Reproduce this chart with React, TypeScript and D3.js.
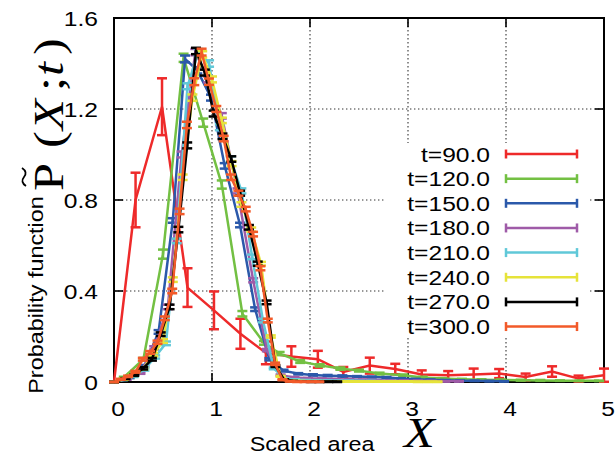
import React from 'react';
import * as d3 from 'd3';

// ---------- data ----------
const xTicks = [0, 1, 2, 3, 4, 5];
const yTicks = [0, 0.4, 0.8, 1.2, 1.6];
const yTickLabels = ['0', '0.4', '0.8', '1.2', '1.6'];
const seriesNames = ['t=90.0', 't=120.0', 't=150.0', 't=180.0', 't=210.0', 't=240.0', 't=270.0', 't=300.0'];
const seriesColors = ['#ee2a2a', '#73c043', '#2b59aa', '#9f5ba8', '#60c8d8', '#e6e33a', '#000000', '#f25a29'];

const x90 = [0, 0.22, 0.49, 0.75, 1.02, 1.29, 1.55, 1.81, 2.08, 2.34, 2.61, 2.87, 3.14, 3.41, 3.67, 3.93, 4.2, 4.47, 4.74, 5.0];
const y90 = [0, 0.80, 1.21, 0.415, 0.315, 0.212, 0.128, 0.112, 0.1, 0.044, 0.072, 0.057, 0.033, 0.03, 0.033, 0.037, 0.022, 0.046, 0.015, 0.03];
const e90 = [0, 0.12, 0.125, 0.085, 0.083, 0.066, 0.05, 0.045, 0.037, 0.022, 0.035, 0.023, 0.018, 0.018, 0.026, 0.02, 0.015, 0.023, 0.013, 0.029];

const x120 = [0, 0.1, 0.3, 0.5, 0.71, 0.91, 1.1, 1.31, 1.53, 1.69, 1.9, 2.1, 2.31, 2.5, 2.71, 2.95, 3.15, 3.35, 3.55, 3.75, 3.95, 4.15, 4.35, 4.55, 4.75, 4.95];
const y120 = [0, 0.02, 0.1, 0.562, 1.425, 1.14, 0.868, 0.3, 0.172, 0.125, 0.09, 0.073, 0.059, 0.05, 0.037, 0.03, 0.02, 0.015, 0.012, 0.01, 0.009, 0.008, 0.007, 0.006, 0.005, 0.005];
const e120 = [0, 0.003, 0.006, 0.02, 0.018, 0.018, 0.018, 0.012, 0.008, 0.007, 0.006, 0.005, 0.005, 0.004, 0.004, 0.003, 0.003, 0.002, 0.002, 0.002, 0.002, 0.002, 0.002, 0.001, 0.001, 0.001];

const x150 = [0, 0.16, 0.31, 0.455, 0.6, 0.725, 0.85, 0.99, 1.13, 1.286, 1.44, 1.585, 1.73, 1.88, 2.03, 2.18, 2.33, 2.48, 2.63, 2.78, 2.93, 3.08, 3.23, 3.38, 3.53, 3.68, 3.83, 3.98];
const y150 = [0, 0.02, 0.07, 0.22, 0.71, 1.42, 1.37, 1.25, 0.95, 0.69, 0.32, 0.1, 0.05, 0.036, 0.031, 0.028, 0.026, 0.024, 0.022, 0.02, 0.015, 0.012, 0.01, 0.008, 0.006, 0.005, 0.004, 0.003];
const e150 = [0, 0.003, 0.005, 0.008, 0.01, 0.015, 0.014, 0.013, 0.012, 0.01, 0.008, 0.005, 0.004, 0.003, 0.003, 0.003, 0.003, 0.002, 0.002, 0.002, 0.002, 0.002, 0.001, 0.001, 0.001, 0.001, 0.001, 0.001];

const x180 = [0, 0.13, 0.27, 0.41, 0.55, 0.69, 0.83, 0.96, 1.10, 1.26, 1.42, 1.56, 1.70, 1.84, 1.98, 2.12, 2.26, 2.40, 2.54, 2.68, 2.82, 2.96, 3.10, 3.24, 3.38, 3.52];
const y180 = [0, 0.012, 0.04, 0.15, 0.33, 1.0, 1.45, 1.33, 1.17, 0.84, 0.447, 0.14, 0.03, 0.02, 0.016, 0.014, 0.012, 0.011, 0.01, 0.008, 0.007, 0.006, 0.005, 0.004, 0.003, 0.003];
const e180 = [0, 0.002, 0.004, 0.007, 0.01, 0.013, 0.014, 0.013, 0.012, 0.011, 0.009, 0.005, 0.003, 0.002, 0.002, 0.002, 0.002, 0.002, 0.001, 0.001, 0.001, 0.001, 0.001, 0.001, 0.001, 0.001];

const x210 = [0, 0.09, 0.2, 0.31, 0.42, 0.53, 0.64, 0.75, 0.86, 0.97, 1.08, 1.19, 1.30, 1.41, 1.52, 1.63, 1.74, 1.85, 1.96, 2.07, 2.18, 2.29, 2.40, 2.51, 2.62, 2.73, 2.84, 2.95];
const y210 = [0, 0.01, 0.025, 0.055, 0.11, 0.17, 0.62, 1.3, 1.45, 1.4, 1.12, 0.98, 0.84, 0.55, 0.27, 0.06, 0.015, 0.01, 0.008, 0.007, 0.006, 0.005, 0.005, 0.004, 0.004, 0.003, 0.003, 0.002];
const e210 = [0, 0.002, 0.003, 0.005, 0.007, 0.008, 0.01, 0.013, 0.014, 0.014, 0.013, 0.012, 0.011, 0.01, 0.008, 0.004, 0.002, 0.002, 0.001, 0.001, 0.001, 0.001, 0.001, 0.001, 0.001, 0.001, 0.001, 0.001];

const x240 = [0, 0.1, 0.2, 0.3, 0.4, 0.5, 0.6, 0.7, 0.8, 0.9, 1.0, 1.1, 1.2, 1.3, 1.4, 1.5, 1.6, 1.7, 1.8, 1.9, 2.0, 2.1, 2.2, 2.3, 2.4, 2.5, 2.6, 2.7, 2.8, 2.9, 3.0, 3.1, 3.2, 3.3];
const y240 = [0, 0.012, 0.03, 0.06, 0.12, 0.18, 0.45, 0.9, 1.25, 1.44, 1.33, 1.15, 0.96, 0.78, 0.67, 0.52, 0.2, 0.025, 0.006, 0.004, 0.003, 0.003, 0.002, 0.002, 0.002, 0.002, 0.002, 0.002, 0.002, 0.002, 0.002, 0.001, 0.001, 0.001];
const e240 = [0, 0.002, 0.003, 0.005, 0.007, 0.008, 0.01, 0.012, 0.014, 0.014, 0.013, 0.012, 0.011, 0.01, 0.009, 0.008, 0.005, 0.002, 0.001, 0.001, 0.001, 0.001, 0.001, 0.001, 0.001, 0.001, 0.001, 0.001, 0.001, 0.001, 0.001, 0.001, 0.001, 0.001];

const x270 = [0, 0.117, 0.207, 0.297, 0.387, 0.477, 0.567, 0.657, 0.747, 0.837, 0.927, 1.017, 1.107, 1.197, 1.287, 1.377, 1.467, 1.557, 1.647, 1.737, 1.827, 1.917, 2.007, 2.097, 2.187, 2.277];
const y270 = [0, 0.015, 0.03, 0.06, 0.1, 0.21, 0.33, 0.67, 1.04, 1.455, 1.36, 1.18, 1.08, 0.98, 0.83, 0.68, 0.52, 0.35, 0.07, 0.01, 0.004, 0.002, 0.001, 0.001, 0.001, 0.001];
const e270 = [0, 0.002, 0.003, 0.005, 0.006, 0.008, 0.01, 0.012, 0.013, 0.014, 0.013, 0.013, 0.012, 0.012, 0.011, 0.01, 0.009, 0.008, 0.004, 0.002, 0.001, 0.001, 0.001, 0.001, 0.001, 0.001];

const x300 = [0, 0.069, 0.144, 0.219, 0.294, 0.369, 0.444, 0.519, 0.594, 0.669, 0.744, 0.819, 0.894, 0.969, 1.044, 1.119, 1.194, 1.269, 1.344, 1.419, 1.494, 1.569, 1.644, 1.719, 1.794, 1.869, 1.944, 2.019, 2.094];
const y300 = [0, 0.012, 0.025, 0.045, 0.1, 0.13, 0.175, 0.28, 0.4, 0.75, 1.13, 1.32, 1.45, 1.32, 1.2, 1.07, 0.9, 0.83, 0.76, 0.65, 0.5, 0.27, 0.08, 0.01, 0.003, 0.001, 0.001, 0.001, 0.001];
const e300 = [0, 0.002, 0.003, 0.004, 0.006, 0.006, 0.007, 0.008, 0.01, 0.012, 0.014, 0.015, 0.015, 0.014, 0.013, 0.012, 0.012, 0.011, 0.01, 0.01, 0.009, 0.008, 0.005, 0.002, 0.001, 0.001, 0.001, 0.001, 0.001];

const seriesX = [x90, x120, x150, x180, x210, x240, x270, x300];
const seriesY = [y90, y120, y150, y180, y210, y240, y270, y300];
const seriesE = [e90, e120, e150, e180, e210, e240, e270, e300];

// ---------- layout ----------
const W = 616, H = 457;
const L = 114, R = 604, T = 18, B = 382;
const SANS = '"Liberation Sans", Arial, Helvetica, sans-serif';
const SERIF = '"Liberation Serif", "Times New Roman", serif';
const SX = 1.2; // horizontal stretch of the fonts
const LW = 2.5;
const CAP = 5;

export default function App() {
  const xs = d3.scaleLinear().domain([0, 5]).range([L, R]);
  const ys = d3.scaleLinear().domain([0, 1.6]).range([B, T]);
  const line = d3.line<number[]>().x(d => xs(d[0])).y(d => ys(d[1]));

  const series = seriesNames.map((name, i) => ({
    name,
    color: seriesColors[i],
    pts: seriesX[i].map((x, j) => [x, seriesY[i][j], seriesE[i][j]]),
  }));

  const keyTop = 154;
  const keyStep = 24.65;

  return (
    <svg width={W} height={H} style={{ position: 'absolute', left: 0, top: 0, background: '#fff' }}>
      <rect x={0} y={0} width={W} height={H} fill="#fff" />
      {/* grid */}
      <g stroke="#333" strokeWidth={1.1} strokeDasharray="1.4 2.6">
        {xTicks.filter(t => t > 0 && t < 5).map(t => (
          <line key={'gx' + t} x1={xs(t)} x2={xs(t)} y1={T} y2={B} />
        ))}
        {yTicks.filter(t => t > 0 && t < 1.6).map(t => (
          <line key={'gy' + t} x1={L} x2={R} y1={ys(t)} y2={ys(t)} />
        ))}
      </g>
      {/* opaque key box */}
      <rect x={386} y={143} width={204} height={194} fill="#fff" />
      {/* border */}
      <rect x={L} y={T} width={R - L} height={B - T} fill="none" stroke="#000" strokeWidth={2} />
      {/* ticks */}
      <g stroke="#000" strokeWidth={1.6}>
        {xTicks.filter(t => t > 0 && t < 5).map(t => (
          <g key={'tx' + t}>
            <line x1={xs(t)} x2={xs(t)} y1={B} y2={B - 9} />
            <line x1={xs(t)} x2={xs(t)} y1={T} y2={T + 9} />
          </g>
        ))}
        {yTicks.filter(t => t > 0 && t < 1.6).map(t => (
          <g key={'ty' + t}>
            <line x1={L} x2={L + 9} y1={ys(t)} y2={ys(t)} />
            <line x1={R} x2={R - 9} y1={ys(t)} y2={ys(t)} />
          </g>
        ))}
      </g>
      {/* tick labels */}
      <g fontFamily={SANS} fontSize={20.5} fill="#000">
        {yTicks.map((t, i) => (
          <text key={'yl' + t} transform={`translate(98,${ys(t) + 7.5}) scale(${SX},1)`} textAnchor="end">
            {yTickLabels[i]}
          </text>
        ))}
        {xTicks.map(t => (
          <text key={'xl' + t} transform={`translate(${xs(t) + 4},415.5) scale(${SX},1)`} textAnchor="middle">
            {String(t)}
          </text>
        ))}
      </g>
      {/* data */}
      {series.map(s => (
        <g key={s.name} stroke={s.color} strokeWidth={LW} fill="none">
          <path d={line(s.pts) || ''} strokeLinejoin="miter" />
          {s.pts.map((p, j) => {
            const cx = xs(p[0]);
            const y1 = ys(p[1] - p[2]);
            const y2 = ys(p[1] + p[2]);
            return (
              <g key={j}>
                <line x1={cx} x2={cx} y1={y1} y2={y2} />
                <line x1={cx - CAP} x2={cx + CAP} y1={y1} y2={y1} />
                <line x1={cx - CAP} x2={cx + CAP} y1={y2} y2={y2} />
              </g>
            );
          })}
        </g>
      ))}
      {/* key */}
      {series.map((s, i) => {
        const yy = keyTop + i * keyStep;
        return (
          <g key={'k' + s.name}>
            <text transform={`translate(490,${yy + 7.5}) scale(${SX},1)`} textAnchor="end"
              fontFamily={SANS} fontSize={20.5} fill="#000">{s.name}</text>
            <g stroke={s.color} strokeWidth={LW}>
              <line x1={506} x2={577} y1={yy} y2={yy} />
              <line x1={506} x2={506} y1={yy - 4.5} y2={yy + 4.5} />
              <line x1={577} x2={577} y1={yy - 4.5} y2={yy + 4.5} />
            </g>
          </g>
        );
      })}
      {/* x axis title */}
      <text transform={`translate(312,450.5) scale(${SX},1)`} textAnchor="middle" fontFamily={SANS} fontSize={19.5} fill="#000">
        Scaled area
      </text>
      <text transform={`translate(404,447) scale(${SX},1)`} fontFamily={SERIF} fontStyle="italic" fontSize={42} fill="#000">
        X
      </text>
      {/* y axis title */}
      <text transform={`translate(43,295) rotate(-90) scale(${SX},1)`} textAnchor="middle" fontFamily={SANS} fontSize={19.5} fill="#000">
        Probability function
      </text>
      <g transform="translate(63,192) rotate(-90)" fontFamily={SERIF} fontSize={42} fill="#000">
        <text transform={`translate(1,0) scale(${SX},1)`}>P</text>
        <path d="M 6 -37 q 4 -6 9 -2 t 9 -2" fill="none" stroke="#000" strokeWidth={1.8} />
        <text transform={`translate(44,0) scale(${SX},1)`}>(</text>
        <text transform={`translate(62,0) scale(${SX},1)`} fontStyle="italic">X</text>
        <text transform={`translate(101,0) scale(${SX},1)`}>;</text>
        <text transform={`translate(116,0) scale(${SX},1)`} fontStyle="italic">t</text>
        <text transform={`translate(137,0) scale(${SX},1)`}>)</text>
      </g>
    </svg>
  );
}
